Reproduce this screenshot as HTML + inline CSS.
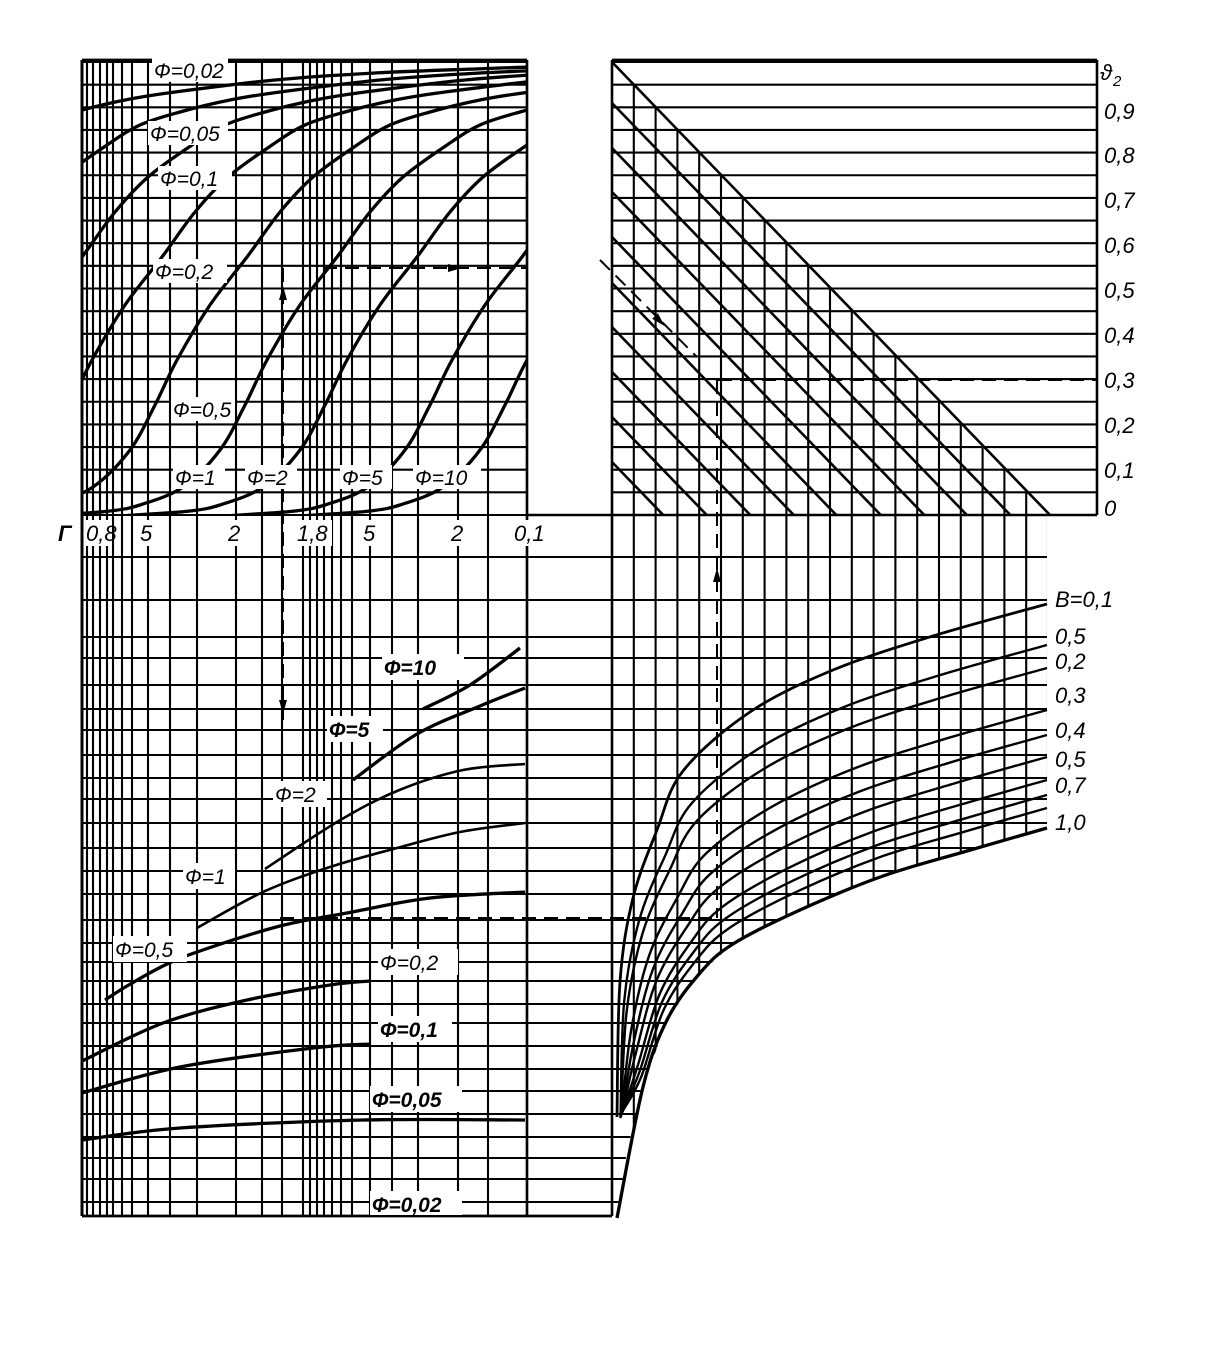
<!DOCTYPE html>
<html><head><meta charset="utf-8"><style>
html,body{margin:0;padding:0;background:#fff}
svg{display:block}
text{font-family:"Liberation Sans",sans-serif;font-style:italic;fill:#000}
.lb{font-size:21px}
.ax{font-size:22px}
</style></head><body>
<svg id="s" width="1212" height="1364" viewBox="0 0 1212 1364" xmlns="http://www.w3.org/2000/svg">
<defs>
<clipPath id="ctl"><rect x="82" y="60" width="445" height="455"/></clipPath>
<clipPath id="cbr"><path d="M82,515 L1047,515 L1047,828 L967,851 L883,876 L800,910 L733,944 L700,973 L667,1020 L643,1087 L627,1151 L617,1218 L82,1218 Z"/></clipPath>
</defs>
<g id="grid" stroke="#000" stroke-width="2.1" fill="none"></g>
<g id="curves" stroke="#000" stroke-width="3.3" fill="none" stroke-linejoin="round"></g>
<g id="dash" stroke="#000" stroke-width="2" fill="none" stroke-dasharray="14,8"></g>
<g id="labels">
<rect x="152" y="58" width="76" height="24" fill="#fff"/><text class="lb" x="154" y="78">Ф=0,02</text>
<rect x="148" y="121" width="80" height="24" fill="#fff"/><text class="lb" x="150" y="141">Ф=0,05</text>
<rect x="158" y="166" width="74" height="24" fill="#fff"/><text class="lb" x="160" y="186">Ф=0,1</text>
<rect x="153" y="259" width="74" height="24" fill="#fff"/><text class="lb" x="155" y="279">Ф=0,2</text>
<rect x="171" y="397" width="64" height="24" fill="#fff"/><text class="lb" x="173" y="417">Ф=0,5</text>
<rect x="173" y="465" width="52" height="24" fill="#fff"/><text class="lb" x="175" y="485">Ф=1</text>
<rect x="245" y="465" width="52" height="24" fill="#fff"/><text class="lb" x="247" y="485">Ф=2</text>
<rect x="340" y="465" width="52" height="24" fill="#fff"/><text class="lb" x="342" y="485">Ф=5</text>
<rect x="413" y="465" width="68" height="24" fill="#fff"/><text class="lb" x="415" y="485">Ф=10</text>
<rect x="86" y="520" width="26" height="26" fill="#fff"/>
<rect x="138" y="520" width="20" height="26" fill="#fff"/>
<rect x="226" y="520" width="20" height="26" fill="#fff"/>
<rect x="296" y="520" width="36" height="26" fill="#fff"/>
<rect x="361" y="520" width="20" height="26" fill="#fff"/>
<rect x="449" y="520" width="20" height="26" fill="#fff"/>
<rect x="512" y="520" width="32" height="26" fill="#fff"/>
<text class="ax" x="58" y="541" style="font-weight:bold">Г</text>
<text class="ax" x="86" y="541">0,8</text>
<text class="ax" x="140" y="541">5</text>
<text class="ax" x="228" y="541">2</text>
<text class="ax" x="297" y="541">1,8</text>
<text class="ax" x="363" y="541">5</text>
<text class="ax" x="451" y="541">2</text>
<text class="ax" x="514" y="541">0,1</text>
<rect x="382" y="654" width="82" height="26" fill="#fff"/><text class="lb" x="384" y="675" style="font-weight:bold">Ф=10</text>
<rect x="327" y="716" width="56" height="26" fill="#fff"/><text class="lb" x="329" y="737" style="font-weight:bold">Ф=5</text>
<rect x="273" y="781" width="54" height="26" fill="#fff"/><text class="lb" x="275" y="802">Ф=2</text>
<rect x="183" y="863" width="52" height="26" fill="#fff"/><text class="lb" x="185" y="884">Ф=1</text>
<rect x="113" y="936" width="74" height="26" fill="#fff"/><text class="lb" x="115" y="957">Ф=0,5</text>
<rect x="378" y="949" width="80" height="26" fill="#fff"/><text class="lb" x="380" y="970">Ф=0,2</text>
<rect x="378" y="1016" width="74" height="26" fill="#fff"/><text class="lb" x="380" y="1037" style="font-weight:bold">Ф=0,1</text>
<rect x="370" y="1086" width="92" height="26" fill="#fff"/><text class="lb" x="372" y="1107" style="font-weight:bold">Ф=0,05</text>
<rect x="370" y="1191" width="92" height="24" fill="#fff"/><text class="lb" x="372" y="1212" style="font-weight:bold">Ф=0,02</text>
<text class="ax" x="1100" y="80">ϑ</text><text x="1113" y="86" style="font-size:15px">2</text>
<text class="ax" x="1104" y="119">0,9</text>
<text class="ax" x="1104" y="163">0,8</text>
<text class="ax" x="1104" y="208">0,7</text>
<text class="ax" x="1104" y="253">0,6</text>
<text class="ax" x="1104" y="298">0,5</text>
<text class="ax" x="1104" y="343">0,4</text>
<text class="ax" x="1104" y="388">0,3</text>
<text class="ax" x="1104" y="433">0,2</text>
<text class="ax" x="1104" y="478">0,1</text>
<text class="ax" x="1104" y="516">0</text>
<text class="ax" x="1055" y="607">B=0,1</text>
<text class="ax" x="1055" y="644">0,5</text>
<text class="ax" x="1055" y="669">0,2</text>
<text class="ax" x="1055" y="703">0,3</text>
<text class="ax" x="1055" y="738">0,4</text>
<text class="ax" x="1055" y="767">0,5</text>
<text class="ax" x="1055" y="793">0,7</text>
<text class="ax" x="1055" y="830">1,0</text>
</g>
</svg>
<script>
(function(){
var NS="http://www.w3.org/2000/svg";
function el(p,tag,a){var e=document.createElementNS(NS,tag);for(var k in a)e.setAttribute(k,a[k]);p.appendChild(e);return e;}
var G=document.getElementById('grid'),C=document.getElementById('curves'),D=document.getElementById('dash');
function L(g,x1,y1,x2,y2,extra){var a={x1:x1,y1:y1,x2:x2,y2:y2};if(extra)for(var k in extra)a[k]=extra[k];return el(g,'line',a);}
function smooth(pts){
 var d='M'+pts[0][0]+','+pts[0][1];
 for(var i=0;i<pts.length-1;i++){
  var p0=pts[i-1]||pts[i],p1=pts[i],p2=pts[i+1],p3=pts[i+2]||p2;
  var c1x=+p1[0]+(p2[0]-p0[0])/6,c1y=+p1[1]+(p2[1]-p0[1])/6;
  var c2x=+p2[0]-(p3[0]-p1[0])/6,c2y=+p2[1]-(p3[1]-p1[1])/6;
  d+=' C'+c1x.toFixed(1)+','+c1y.toFixed(1)+' '+c2x.toFixed(1)+','+c2y.toFixed(1)+' '+p2[0]+','+p2[1];
 }
 return d;
}
var logX=[82,87,93,100,107,113,122,132,148,170,197,236,262,282,303,310,317,324,332,341,352,370,392,418,458,488,527];
var rows=[];for(var i=0;i<=20;i++)rows.push(62+i*22.65);
rows.forEach(function(y,i){L(G,82,y,527,y);L(G,612,y,1097,y);});
logX.forEach(function(x){L(G,x,60,x,1216);});
L(G,82,60,82,1216,{'stroke-width':3});L(G,527,60,527,1216,{'stroke-width':2.6});
L(G,612,60,612,1216,{'stroke-width':2.6});L(G,1097,60,1097,515,{'stroke-width':2.6});
L(G,82,60,527,60,{'stroke-width':2.8});L(G,612,60,1097,60,{'stroke-width':2.8});
L(G,82,1216,612,1216,{'stroke-width':2.8});L(G,527,515,1097,515,{'stroke-width':2.6});
var brow=[557,600,637,658,685,709,730,755,778,799,823,848,871,894,920,943,962,981,1004,1023,1046,1069,1091,1114,1137,1158,1179,1202];
var gb=el(G,'g',{'clip-path':'url(#cbr)'});
brow.forEach(function(y){L(gb,82,y,1047,y);});
for(var k=1;k<=20;k++){var x=612+k*21.8;var y0=62+k*22.6;L(gb,x,515,x,1216);L(G,x,Math.min(y0,515),x,515);}
var sl=437/452;
L(G,612,62,612+(515-62)*sl,515,{'stroke-width':2.6});
[103,148,192,237,283,327,372,417,462].forEach(function(y){L(G,612,y,612+(515-y)*sl,515,{'stroke-width':2.6});});
var T=[[120,516],[150,514],[190,511],[220,505],[263,487],[300,450],[325,405],[347,360],[380,305],[417,257],[450,212],[483,177],[527,145],[560,125],[600,112],[650,100],[700,92],[800,80],[900,73],[1000,69],[1100,66],[1300,63]];
var gtl=el(C,'g',{'clip-path':'url(#ctl)'});
[180,105,0,-80,-170,-255,-335,-420,-525].forEach(function(d){
 el(gtl,'path',{d:smooth(T.map(function(p){return [p[0]+d,p[1]];}))});
});
function P(pts,w){el(C,'path',{d:smooth(pts),'stroke-width':w||3.3});}
P([[423,709],[470,685],[520,648]]);
P([[353,780],[417,734],[480,706],[525,688]]);
P([[265,869],[337,822],[397,791],[463,770],[525,764]],2.6);
P([[197,928],[263,892],[330,867],[397,848],[460,832],[525,823]],2.6);
P([[105,1000],[127,986],[163,966],[197,952],[280,926],[347,913],[430,898],[525,892]]);
P([[82,1061],[163,1023],[247,1000],[330,985],[370,981]]);
P([[82,1093],[180,1067],[313,1048],[370,1044]]);
P([[82,1140],[180,1128],[363,1120],[525,1120]]);
var top=[[1047,604],[933,636],[833,670],[750,712],[683,771],[657,830],[633,898],[620,982],[617,1117]];
var bnd=[[1047,828],[967,851],[883,876],[800,910],[733,944],[700,973],[667,1020],[643,1087],[617,1218]];
P(top,2.8);P(bnd,3.3);
[645,668,710,735,757,780,795,808].forEach(function(ye){
 var t=(ye-604)/224;
 var pts=top.map(function(p,i){var q=bnd[i];var x=p[0]*(1-t)+q[0]*t,y=p[1]*(1-t)+q[1]*t;if(i==top.length-1){y=Math.min(y,1120-10*t);x=620+3*t;}return [+x.toFixed(1),+y.toFixed(1)];});
 P(pts,2.4);
});
L(D,323,268,527,268);L(D,600,260,697,357);L(D,718,380,1097,380);
L(D,717,380,717,918);L(D,280,918,717,918);L(D,283,268,283,720);
function A(x,y,ang){el(document.getElementById('s'),'polygon',{points:'0,-4 14,0 0,4',fill:'#000',transform:'translate('+x+','+y+') rotate('+ang+')'});}
A(448,268,0);A(655,316,46);A(717,582,-90);A(283,300,-90);A(283,700,90);
})();
</script>
</body></html>
